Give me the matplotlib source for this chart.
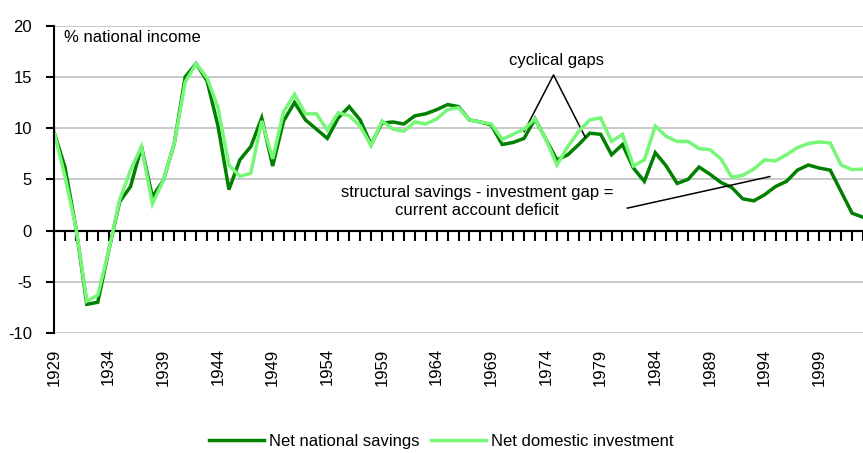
import matplotlib
matplotlib.use("Agg")
import matplotlib.pyplot as plt
import numpy as np

plt.rcParams['font.family'] = ['Liberation Sans', 'DejaVu Sans']

years = list(range(1929, 2004))
net_national_savings = [
    9.6, 6.2, 0.3, -7.2, -7.0, -2.0, 2.8, 4.3, 8.2, 3.3,
    4.9, 8.5, 15.0, 16.3, 14.6, 10.2, 4.0, 6.9, 8.2, 11.0,
    6.3, 10.7, 12.5, 10.8, 9.9, 9.0, 11.0, 12.1, 10.8, 8.4,
    10.5, 10.6, 10.4, 11.2, 11.4, 11.8, 12.3, 12.1, 10.8, 10.6,
    10.3, 8.4, 8.6, 9.0, 10.9, 8.9, 6.9, 7.4, 8.4, 9.5,
    9.4, 7.4, 8.4, 6.1, 4.8, 7.6, 6.3, 4.6, 5.0, 6.2,
    5.5, 4.7, 4.2, 3.1, 2.9, 3.5, 4.3, 4.8, 5.9, 6.4,
    6.1, 5.9, 3.8, 1.7, 1.3,
]
net_domestic_investment = [
    9.6, 5.3, 0.3, -6.9, -6.3, -2.0, 3.0, 5.9, 8.2, 2.6,
    4.9, 8.5, 14.5, 16.3, 14.9, 12.0, 6.4, 5.3, 5.6, 10.7,
    7.0, 11.6, 13.3, 11.4, 11.4, 9.8, 11.5, 11.2, 10.2, 8.3,
    10.7, 9.9, 9.7, 10.6, 10.4, 10.9, 11.8, 12.0, 10.8, 10.6,
    10.4, 8.9, 9.4, 9.9, 10.9, 8.9, 6.4, 8.2, 9.7, 10.8,
    11.0, 8.7, 9.4, 6.3, 6.9, 10.2, 9.2, 8.7, 8.7, 8.0,
    7.9, 7.0, 5.2, 5.4, 6.0, 6.9, 6.8, 7.4, 8.1, 8.5,
    8.65, 8.55, 6.4, 5.95, 6.0,
]
y_ticks = [-10, -5, 0, 5, 10, 15, 20]
x_label_years = list(range(1929, 2000, 5))

dark = '#008000'
light = '#77F777'

fig = plt.figure(figsize=(8.63, 4.53), dpi=100)
ax = fig.add_axes([0.0626, 0.2649, 0.9374, 0.6784])

ax.axhline(0, color='black', lw=1.5, zorder=1.5)
ax.plot(years, net_national_savings, color=dark, lw=2.5, label='Net national savings',
        solid_joinstyle='miter', zorder=2)
ax.plot(years, net_domestic_investment, color=light, lw=2.5, label='Net domestic investment',
        solid_joinstyle='miter', zorder=2.1)

ax.set_xlim(1929, 2003)
ax.set_ylim(-10, 20)
ax.set_yticks(y_ticks)
ax.set_yticklabels([str(v) for v in y_ticks], fontsize=12)
ax.yaxis.grid(True, color='#C0C0C0', lw=1.2)
ax.set_axisbelow(True)

for s in ['top', 'right', 'bottom']:
    ax.spines[s].set_visible(False)
ax.spines['left'].set_linewidth(1.5)
ax.tick_params(axis='y', direction='out', length=6, width=1.5, pad=10)

# bottom labels (every 5 years), no ticks
ax.set_xticks(x_label_years)
ax.set_xticklabels([str(y) for y in x_label_years], rotation=90, fontsize=12)
ax.tick_params(axis='x', length=0, pad=11)

# zero-line axis with yearly ticks
sec = ax.secondary_xaxis(1/3)
sec.set_xticks(years)
sec.set_xticklabels([])
sec.tick_params(axis='x', direction='out', length=7, width=1.5)
sec.spines['bottom'].set_linewidth(1.5)

# annotations
ax.text(1929.9, 18.8, '% national income', fontsize=12, ha='left', va='center')
ax.text(1975.0, 16.65, 'cyclical gaps', fontsize=12, ha='center', va='center')
ax.plot([1972.0, 1974.69, 1977.58], [9.66, 15.19, 9.14], color='black', lw=1.1)
ax.text(1967.72, 2.83, 'structural savings - investment gap =\ncurrent account deficit',
        fontsize=12, ha='center', va='center', linespacing=1.25)
ax.plot([1981.45, 1994.48], [2.19, 5.27], color='black', lw=1.1)

fig.legend(loc='center', bbox_to_anchor=(0.5116, 0.026), ncol=2, frameon=False,
           fontsize=12, handlelength=3.3, handletextpad=0.3, columnspacing=0.7)

fig.savefig('out.png', dpi=100)
